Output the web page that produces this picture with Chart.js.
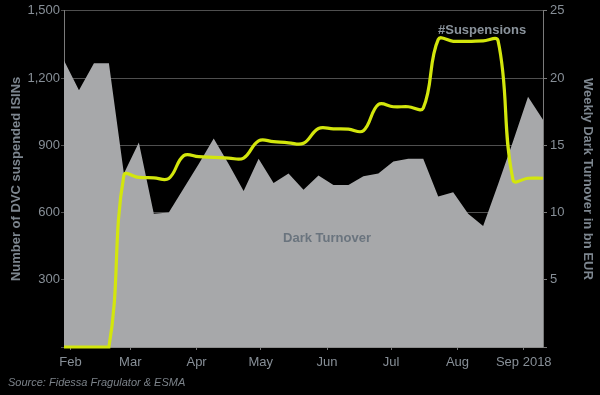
<!DOCTYPE html>
<html>
<head>
<meta charset="utf-8">
<script src="https://cdn.jsdelivr.net/npm/chart.js@4.4.1/dist/chart.umd.min.js"></script>
<style>
	html, body { margin: 0; padding: 0; background: #000; }
	#wrap { position: relative; width: 600px; height: 395px; background: #000; }
	#source {
		position: absolute; left: 8px; top: 376px;
		font: italic 11px "Liberation Sans", Arial, sans-serif;
		color: #7b8289;
	}
</style>
</head>
<body>
<div id="wrap">
	<canvas id="darkChart" width="600" height="395"></canvas>
	<div id="source">Source: Fidessa Fragulator &amp; ESMA</div>
</div>
<script>
// weekly observations, day of year 2018 (Jan 1 = 0)
var weekDays = [28, 35, 42, 49, 56, 63, 70, 77, 84, 91, 98, 105, 112, 119, 126, 133, 140,
	147, 154, 161, 168, 175, 182, 189, 196, 203, 210, 217, 224, 231, 238, 245, 252];

// number of DVC suspended ISINs (left axis)
var suspensions = [0, 0, 0, 0, 765, 757, 755, 752, 854, 849, 846, 843, 843, 920, 916, 911, 909,
	975, 973, 972, 965, 1082, 1072, 1072, 1066, 1372, 1364, 1364, 1366, 1366, 745, 753, 753];

// weekly dark turnover, bn EUR (right axis)
var darkTurnover = [21.3, 19.1, 21.1, 21.1, 12.9, 15.2, 9.9, 10.0, 11.8, 13.6, 15.5, 13.6, 11.6,
	14.0, 12.2, 12.9, 11.7, 12.75, 12.05, 12.05, 12.7, 12.9, 13.8, 14.0, 14.0, 11.2, 11.5, 9.9,
	9.0, 12.1, 15.3, 18.6, 16.9];

// month ticks on the time axis
var monthDays = [31, 59, 90, 120, 151, 181, 212, 243];
var monthLabels = ['Feb', 'Mar', 'Apr', 'May', 'Jun', 'Jul', 'Aug', 'Sep 2018'];

var tickColor = '#878f97';
var titleColor = '#7d868f';
var fontName = '"Liberation Sans", Arial, sans-serif';

function toPoints(xs, ys) {
	var pts = [];
	for (var i = 0; i < xs.length; i++) {
		pts.push({ x: xs[i], y: ys[i] });
	}
	return pts;
}

var labelsPlugin = {
	id: 'seriesLabels',
	afterDatasetsDraw: function(chart) {
		var ctx = chart.ctx;
		var sx = chart.scales.x;
		ctx.save();
		ctx.font = 'bold 13px ' + fontName;
		ctx.textAlign = 'center';
		ctx.textBaseline = 'middle';
		ctx.fillStyle = '#8a939c';
		ctx.fillText('#Suspensions', sx.getPixelForValue(223.5), chart.scales.y.getPixelForValue(1412));
		ctx.fillStyle = '#6a747e';
		ctx.fillText('Dark Turnover', sx.getPixelForValue(151), chart.scales.y1.getPixelForValue(8.1));
		ctx.restore();
	}
};

var ctx = document.getElementById('darkChart').getContext('2d');
var myChart = new Chart(ctx, {
	type: 'line',
	data: {
		datasets: [{
			label: '#Suspensions',
			data: toPoints(weekDays, suspensions),
			yAxisID: 'y',
			borderColor: '#d3e60c',
			borderWidth: 3.2,
			pointRadius: 0,
			tension: 0.4,
			fill: false,
			clip: 6,
			order: 0
		}, {
			label: 'Dark Turnover',
			data: toPoints(weekDays, darkTurnover),
			yAxisID: 'y1',
			borderWidth: 0,
			backgroundColor: '#a7a8aa',
			pointRadius: 0,
			tension: 0,
			fill: 'origin',
			order: 1
		}]
	},
	options: {
		responsive: false,
		animation: false,
		layout: { padding: { top: 10, left: 0, right: 0, bottom: 0 } },
		plugins: {
			legend: { display: false },
			tooltip: { enabled: false }
		},
		scales: {
			x: {
				type: 'linear',
				min: weekDays[0],
				max: weekDays[weekDays.length - 1],
				afterBuildTicks: function(axis) {
					axis.ticks = monthDays.map(function(d) { return { value: d }; });
				},
				afterFit: function(axis) { axis.height = 48; },
				ticks: {
					autoSkip: false,
					maxRotation: 0,
					padding: 5,
					color: tickColor,
					font: { family: fontName, size: 13 },
					callback: function(value, index) { return monthLabels[index]; }
				},
				grid: { drawOnChartArea: false, tickLength: 3, color: '#777' },
				border: { color: '#8c8c8c' }
			},
			y: {
				position: 'left',
				min: 0,
				max: 1500,
				afterFit: function(axis) { axis.width = 64; },
				ticks: {
					stepSize: 300,
					padding: 1,
					color: tickColor,
					font: { family: fontName, size: 13 },
					callback: function(value) { return value === 0 ? '' : value.toLocaleString('en-US'); }
				},
				grid: { color: '#4f4f4f', tickLength: 3 },
				border: { color: '#7a7a7a' },
				title: {
					display: true,
					text: 'Number of DVC suspended ISINs',
					color: titleColor,
					font: { family: fontName, size: 13, weight: 'bold' },
					padding: { top: 9, bottom: 0 }
				}
			},
			y1: {
				position: 'right',
				min: 0,
				max: 25,
				afterFit: function(axis) { axis.width = 57; },
				ticks: {
					stepSize: 5,
					padding: 3,
					color: tickColor,
					font: { family: fontName, size: 13 },
					callback: function(value) { return value === 0 ? '' : value; }
				},
				grid: { drawOnChartArea: false, color: '#7a7a7a', tickLength: 4 },
				border: { color: '#7a7a7a' },
				title: {
					display: true,
					text: 'Weekly Dark Turnover in bn EUR',
					color: titleColor,
					font: { family: fontName, size: 13, weight: 'bold' },
					padding: { top: 5, bottom: 0 }
				}
			}
		}
	},
	plugins: [labelsPlugin]
});
</script>
</body>
</html>
